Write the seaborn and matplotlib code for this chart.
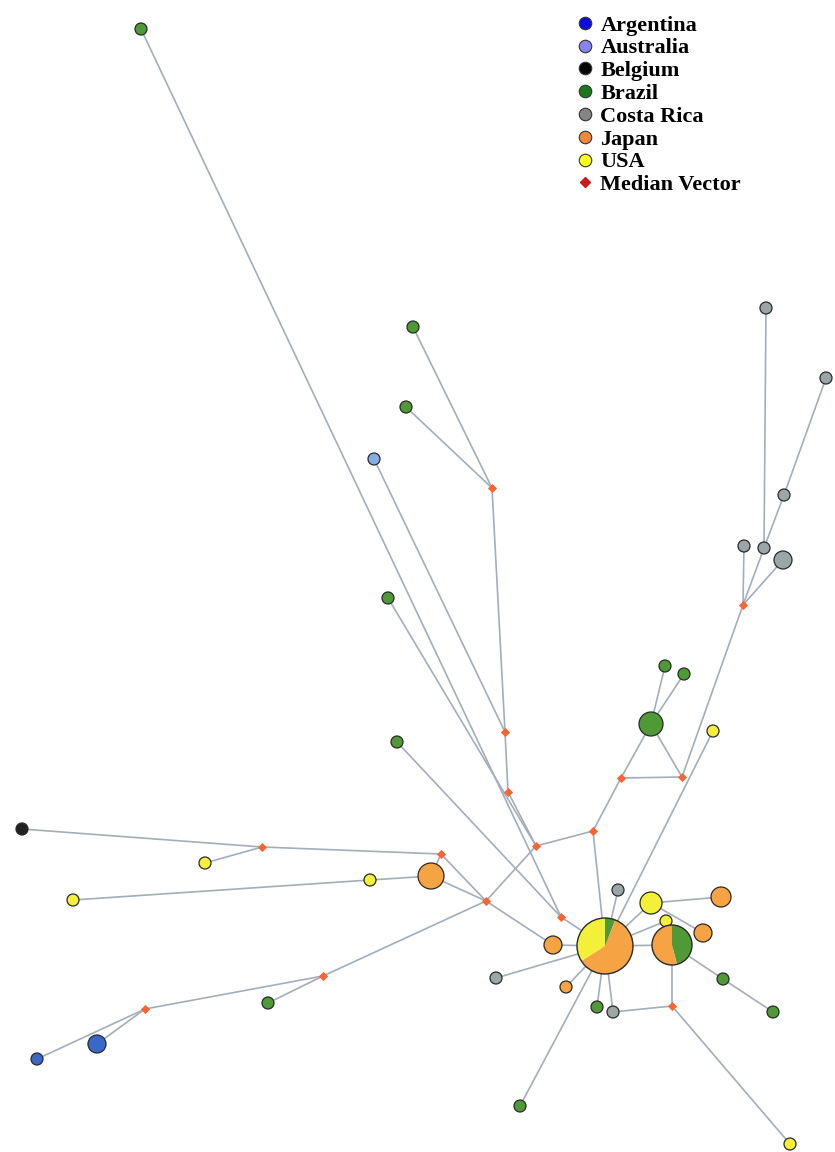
import numpy as np
import pandas as pd
import matplotlib
matplotlib.use("Agg")
import matplotlib.pyplot as plt
from matplotlib.patches import Wedge
from matplotlib.lines import Line2D
import seaborn as sns

# haplotype nodes (layout, pixel units)
node_x = [141, 413, 406, 374, 388, 397, 22, 205, 73, 370, 431, 37, 97, 268,
          553, 566, 496, 520, 597, 613, 618, 651, 721, 703, 666, 723, 773, 790,
          651, 665, 684, 713, 766, 826, 784, 744, 764, 783]
node_y = [29, 327, 407, 459, 598, 742, 829, 863, 900, 880, 876, 1059, 1044, 1003,
          945, 987, 978, 1106, 1007, 1012, 890, 903, 897, 933, 921, 979, 1012, 1144,
          724, 666, 674, 731, 308, 378, 495, 546, 548, 560]
node_country = ["Brazil", "Brazil", "Brazil", "Australia", "Brazil", "Brazil", "Belgium",
                "USA", "USA", "USA", "Japan", "Argentina", "Argentina", "Brazil",
                "Japan", "Japan", "Costa Rica", "Brazil", "Brazil", "Costa Rica",
                "Costa Rica", "USA", "Japan", "Japan", "USA", "Brazil", "Brazil", "USA",
                "Brazil", "Brazil", "Brazil", "USA", "Costa Rica", "Costa Rica",
                "Costa Rica", "Costa Rica", "Costa Rica", "Costa Rica"]
node_r = [6, 6, 6, 6, 6, 6, 6, 6, 6, 6, 13, 6, 9, 6,
          9, 6, 6, 6, 6, 6, 6, 11, 10, 9, 6, 6, 6, 6,
          12, 6, 6, 6, 6, 6, 6, 6, 6, 9]

# shared haplotypes drawn as pies (slices listed clockwise from the top)
pie_x = [605, 672]
pie_y = [946, 945]
pie_r = [28, 20]
pie_parts = [[("Brazil", 0.06), ("Japan", 0.60), ("USA", 0.34)],
             [("Brazil", 0.46), ("Japan", 0.54)]]

# median vectors
med_x = [492, 505, 508, 536, 593, 621, 682, 743, 561, 486, 441, 262, 323, 145, 672]
med_y = [488, 732, 792, 846, 831, 778, 777, 605, 917, 901, 854, 847, 976, 1009, 1006]

# edges: ("n", i) node, ("p", i) pie, ("m", i) median
edges = [
    (("n", 0), ("m", 8)), (("n", 1), ("m", 0)), (("n", 2), ("m", 0)),
    (("m", 0), ("m", 1)), (("n", 3), ("m", 1)), (("m", 1), ("m", 2)),
    (("m", 2), ("m", 3)), (("n", 4), ("m", 3)), (("m", 3), ("m", 4)),
    (("m", 3), ("m", 9)), (("n", 5), ("m", 8)), (("m", 8), ("p", 0)),
    (("m", 4), ("p", 0)), (("m", 4), ("m", 5)), (("m", 5), ("m", 6)),
    (("m", 5), ("n", 28)), (("m", 6), ("n", 28)), (("m", 6), ("m", 7)),
    (("n", 28), ("n", 29)), (("n", 28), ("n", 30)),
    (("m", 7), ("n", 35)), (("m", 7), ("n", 36)), (("m", 7), ("n", 37)),
    (("n", 36), ("n", 32)), (("n", 36), ("n", 34)), (("n", 34), ("n", 33)),
    (("n", 31), ("p", 0)), (("n", 6), ("m", 11)), (("n", 7), ("m", 11)),
    (("m", 11), ("m", 10)), (("m", 10), ("m", 9)), (("m", 10), ("n", 10)),
    (("n", 10), ("m", 9)), (("n", 8), ("n", 9)), (("n", 9), ("n", 10)),
    (("m", 9), ("m", 12)), (("m", 12), ("m", 13)), (("m", 13), ("n", 11)),
    (("m", 13), ("n", 12)), (("n", 13), ("m", 12)), (("m", 9), ("n", 14)),
    (("n", 14), ("p", 0)), (("p", 0), ("n", 15)), (("p", 0), ("n", 16)),
    (("p", 0), ("n", 17)), (("p", 0), ("n", 18)), (("p", 0), ("n", 19)),
    (("p", 0), ("n", 20)), (("p", 0), ("n", 21)), (("p", 0), ("n", 24)),
    (("p", 0), ("p", 1)), (("n", 21), ("n", 22)), (("n", 21), ("n", 23)),
    (("p", 1), ("n", 25)), (("n", 25), ("n", 26)), (("p", 1), ("m", 14)),
    (("n", 19), ("m", 14)), (("m", 14), ("n", 27)),
]

countries = ["Argentina", "Australia", "Belgium", "Brazil", "Costa Rica", "Japan", "USA"]
node_colors = {"Argentina": "#3a68c8", "Australia": "#86aee6", "Belgium": "#222222",
               "Brazil": "#4f9a36", "Costa Rica": "#9aa7a8", "Japan": "#f6a443",
               "USA": "#f4f03a"}
legend_colors = {"Argentina": "#0c0ce0", "Australia": "#8484f2", "Belgium": "#050505",
                 "Brazil": "#1b781b", "Costa Rica": "#858585", "Japan": "#f0873a",
                 "USA": "#ffff14"}
median_color = "#fa6432"
edge_color = "#a2aeba"

nodes = pd.DataFrame({"x": node_x, "y": node_y, "country": node_country, "r": node_r})
meds = pd.DataFrame({"x": med_x, "y": med_y})


def pos(ref):
    kind, i = ref
    if kind == "n":
        return node_x[i], node_y[i]
    if kind == "p":
        return pie_x[i], pie_y[i]
    return med_x[i], med_y[i]


sns.set_style("white")
fig = plt.figure(figsize=(8.35, 11.52), dpi=100)
ax = fig.add_axes([0, 0, 1, 1])

for a, b in edges:
    (x0, y0), (x1, y1) = pos(a), pos(b)
    ax.plot([x0, x1], [y0, y1], color=edge_color, lw=1.2, zorder=1)

# marker area in points^2 from radius in pixels (1 px = 0.72 pt at 100 dpi)
size_map = {r: (2 * r * 0.72) ** 2 for r in sorted(set(node_r))}
sns.scatterplot(data=nodes, x="x", y="y", hue="country", palette=node_colors,
                size="r", sizes=size_map, edgecolor="#2a2a2a", linewidth=0.9,
                legend=False, zorder=3, ax=ax)

sns.scatterplot(data=meds, x="x", y="y", marker="D", color=median_color,
                s=22, linewidth=0, legend=False, zorder=4, ax=ax)

for cx, cy, r, parts in zip(pie_x, pie_y, pie_r, pie_parts):
    # y axis is inverted: 270 deg is the top and growing angles run clockwise
    start = 270.0
    for country, frac in parts:
        end = start + frac * 360
        ax.add_patch(Wedge((cx, cy), r, start, end, facecolor=node_colors[country],
                           edgecolor="none", zorder=3))
        start = end
    ax.add_patch(plt.Circle((cx, cy), r, fill=False, edgecolor="#2a2a2a",
                            lw=1.0, zorder=3.5))

ax.set_xlim(0, 835)
ax.set_ylim(1152, 0)
ax.set_aspect("equal")
ax.axis("off")

handles = [Line2D([], [], marker="o", ls="", markersize=9, markerfacecolor=legend_colors[c],
                  markeredgecolor="#333333", markeredgewidth=0.8) for c in countries]
handles.append(Line2D([], [], marker="D", ls="", markersize=5,
                      markerfacecolor="#d01a1a", markeredgecolor="#d01a1a"))
labels = countries + ["Median Vector"]
ax.legend(handles, labels, loc="upper left", bbox_to_anchor=(566, 4),
          bbox_transform=ax.transData, frameon=False, labelcolor="black",
          prop={"family": "Liberation Serif", "weight": "bold", "size": 16},
          handlelength=0.7, handletextpad=0.35, labelspacing=0.1, borderpad=0)

fig.savefig("out.png", dpi=100, facecolor="white")
